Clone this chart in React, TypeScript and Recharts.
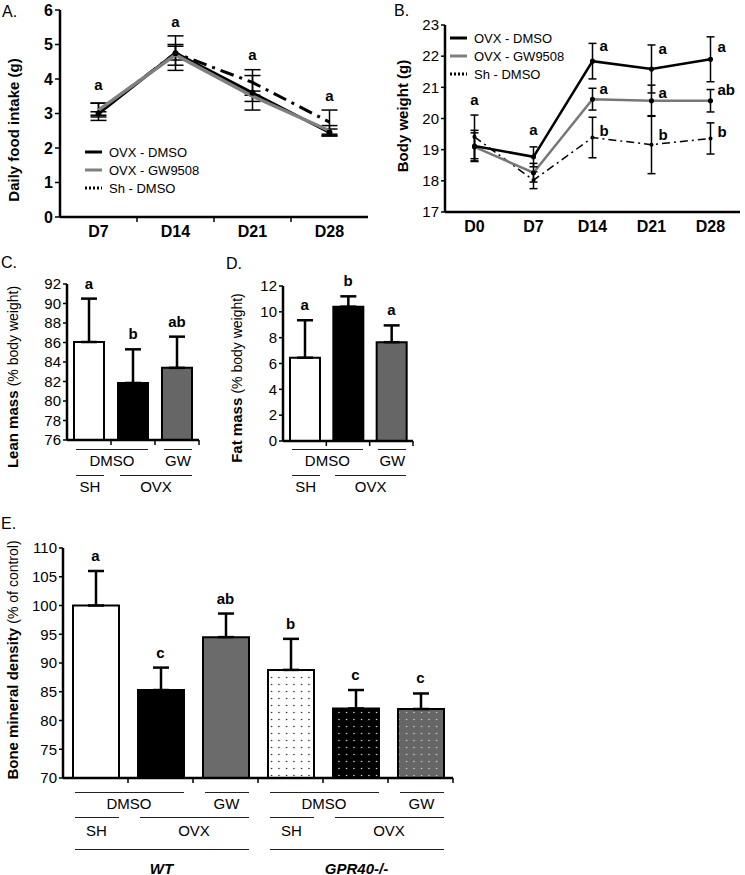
import {
  Bar,
  Cell,
  ComposedChart,
  ErrorBar,
  LabelList,
  Legend,
  Line,
  XAxis,
  YAxis,
} from 'recharts'

const FONT = '"Liberation Sans", Arial, Helvetica, sans-serif'

// A. daily food intake (g)
const foodDays = ['D7', 'D14', 'D21', 'D28']
const foodOvxDmso = [3.0, 4.75, 3.6, 2.45]
const foodOvxDmsoErr = [0.05, 0.2, 0.5, 0.1]
const foodOvxGw = [3.1, 4.7, 3.5, 2.5]
const foodOvxGwErr = [0.2, 0.3, 0.15, 0.15]
const foodShDmso = [3.05, 4.75, 3.9, 2.75]
const foodShDmsoErr = [0.25, 0.5, 0.37, 0.35]
const foodLetters = ['a', 'a', 'a', 'a']
const foodLetterY = [3.83, 5.66, 4.7, 3.51]

// B. body weight (g)
const bwDays = ['D0', 'D7', 'D14', 'D21', 'D28']
const bwOvxDmso = [19.12, 18.77, 21.84, 21.59, 21.9]
const bwOvxDmsoErr = [0.5, 0.32, 0.57, 0.77, 0.72]
const bwOvxGw = [19.09, 18.26, 20.62, 20.57, 20.57]
const bwOvxGwErr = [0.45, 0.3, 0.35, 0.5, 0.36]
const bwShDmso = [19.41, 18.02, 19.39, 19.16, 19.36]
const bwShDmsoErr = [0.7, 0.27, 0.65, 0.93, 0.5]
const bwLettersTop = ['a', 'a', 'a', 'a', 'a']
const bwLettersTopY = [20.6, 19.63, 22.33, 22.23, 22.29]
const bwLettersMid = [null, null, 'a', 'a', 'ab']
const bwLettersMidY = [null, null, 20.95, 20.83, 20.91]
const bwLettersLow = [null, null, 'b', 'b', 'b']
const bwLettersLowY = [null, null, 19.6, 19.47, 19.57]

// C. lean mass, D. fat mass (% body weight)
const bodyGroups = ['SH DMSO', 'OVX DMSO', 'OVX GW']
const leanMass = [86.05, 81.85, 83.4]
const leanMassErr = [4.45, 3.45, 3.2]
const leanLetters = ['a', 'b', 'ab']
const fatMass = [6.45, 10.4, 7.65]
const fatMassErr = [2.9, 0.8, 1.3]
const fatLetters = ['a', 'b', 'a']
const bodyFills = ['#ffffff', '#000000', '#666666']

// E. bone mineral density (% of control)
const bmdGroups = ['WT SH DMSO', 'WT OVX DMSO', 'WT OVX GW', 'KO SH DMSO', 'KO OVX DMSO', 'KO OVX GW']
const bmd = [100, 85.3, 94.5, 88.8, 82.1, 82.0]
const bmdErr = [6.0, 3.9, 4.1, 5.4, 3.2, 2.7]
const bmdLetters = ['a', 'c', 'ab', 'b', 'c', 'c']
const bmdFills = ['#ffffff', '#000000', '#6b6b6b', 'url(#dotsWhite)', 'url(#dotsBlack)', 'url(#dotsGray)']

// group labels under the bars: [label, first bar, last bar]
type Span = [string, number, number]
const cdTreatRow: Span[] = [['DMSO', 0, 1], ['GW', 2, 2]]
const cdSurgeryRow: Span[] = [['SH', 0, 0], ['OVX', 1, 2]]
const eTreatRow: Span[] = [['DMSO', 0, 1], ['GW', 2, 2], ['DMSO', 3, 4], ['GW', 5, 5]]
const eSurgeryRow: Span[] = [['SH', 0, 0], ['OVX', 1, 2], ['SH', 3, 3], ['OVX', 4, 5]]
const eGenotypeRow: Span[] = [['WT', 0, 2], ['GPR40-/-', 3, 5]]

const lineLegend = [
  { name: 'OVX - DMSO', color: '#000000', dash: undefined },
  { name: 'OVX - GW9508', color: '#808080', dash: undefined },
  { name: 'Sh - DMSO', color: '#000000', dash: '2 2' },
]

const foodData = foodDays.map((d, i) => ({
  day: d,
  ovx: foodOvxDmso[i],
  ovxE: foodOvxDmsoErr[i],
  gw: foodOvxGw[i],
  gwE: foodOvxGwErr[i],
  sh: foodShDmso[i],
  shE: foodShDmsoErr[i],
  let: foodLetters[i],
  letY: foodLetterY[i],
}))

const bwData = bwDays.map((d, i) => ({
  day: d,
  ovx: bwOvxDmso[i],
  ovxE: bwOvxDmsoErr[i],
  gw: bwOvxGw[i],
  gwE: bwOvxGwErr[i],
  sh: bwShDmso[i],
  shE: bwShDmsoErr[i],
  // first two days have a single letter centred over the point
  letC: i < 2 ? bwLettersTop[i] : null,
  letCY: i < 2 ? bwLettersTopY[i] : null,
  letT: i >= 2 ? bwLettersTop[i] : null,
  letTY: i >= 2 ? bwLettersTopY[i] : null,
  letM: bwLettersMid[i],
  letMY: bwLettersMidY[i],
  letL: bwLettersLow[i],
  letLY: bwLettersLowY[i],
}))

function barRows(groups: string[], vals: number[], errs: number[], lets: string[]) {
  return groups.map((g, i) => ({
    g,
    v: vals[i],
    e: [0, errs[i]],
    top: vals[i] + errs[i],
    let: lets[i],
  }))
}
const leanData = barRows(bodyGroups, leanMass, leanMassErr, leanLetters)
const fatData = barRows(bodyGroups, fatMass, fatMassErr, fatLetters)
const bmdData = barRows(bmdGroups, bmd, bmdErr, bmdLetters)

type Box = { x: number; y: number; w: number; h: number }
const A_BOX: Box = { x: 60, y: 10, w: 308, h: 207 }
const B_BOX: Box = { x: 445, y: 25, w: 295, h: 187 }
const C_BOX: Box = { x: 67, y: 284, w: 132, h: 156 }
const D_BOX: Box = { x: 283, y: 286, w: 130, h: 155 }
const E_BOX: Box = { x: 63, y: 548, w: 390, h: 230 }

const YW = 50
const PAD_T = 14
const XH = 40

function chartFrame(b: Box, padR: number) {
  return {
    style: { position: 'absolute' as const, left: b.x - YW, top: b.y - PAD_T },
    width: b.w + YW + padR,
    height: b.h + PAD_T + XH,
    margin: { top: PAD_T, right: padR, bottom: 0, left: 0 },
  }
}

const axisLine = { stroke: '#000', strokeWidth: 2.5 }
const tickLine = { stroke: '#000', strokeWidth: 1.5 }

function bandTick(
  band: number,
  o: { label: boolean; bold?: boolean; size?: number; dy?: number; marks: boolean; lastMark?: boolean; count: number },
) {
  return (props: any) => {
    const { x, y, payload, index } = props
    const isLast = index === o.count - 1
    return (
      <g>
        {o.marks && (!isLast || o.lastMark) && (
          <line x1={x + band / 2} x2={x + band / 2} y1={y} y2={y + 5} stroke="#000" strokeWidth={1.5} />
        )}
        {o.label && (
          <text
            x={x}
            y={y + (o.dy ?? 16)}
            textAnchor="middle"
            fontFamily={FONT}
            fontSize={o.size ?? 15}
            fontWeight={o.bold ? 700 : 400}
            fill="#000"
          >
            {payload.value}
          </text>
        )}
      </g>
    )
  }
}

function letterLabel(dy: number, dx = 0, anchor: 'middle' | 'start' = 'middle') {
  return (p: any) => {
    const v = p.value
    if (v == null || v === '') return null
    const vb = p.viewBox ?? {}
    const x = vb.x ?? p.x
    const y = vb.y ?? p.y
    if (!Number.isFinite(x) || !Number.isFinite(y)) return null
    return (
      <text x={x + dx} y={y + dy} textAnchor={anchor} fontFamily={FONT} fontSize={15} fontWeight={700} fill="#000">
        {v}
      </text>
    )
  }
}

function LineLegend({ size }: { size: number }) {
  return (
    <div style={{ fontFamily: FONT, fontSize: size, color: '#000' }}>
      {lineLegend.map((it) => (
        <div key={it.name} style={{ display: 'flex', alignItems: 'center', height: 18 }}>
          <svg width={18} height={6}>
            <line x1={0} x2={17} y1={3} y2={3} stroke={it.color} strokeWidth={3} strokeDasharray={it.dash} />
          </svg>
          <span style={{ marginLeft: 6 }}>{it.name}</span>
        </div>
      ))}
    </div>
  )
}

function VLabel({ cx, cy, bold, rest }: { cx: number; cy: number; bold: string; rest?: string }) {
  return (
    <div
      style={{
        position: 'absolute',
        left: cx,
        top: cy,
        transform: 'translate(-50%, -50%) rotate(-90deg)',
        whiteSpace: 'nowrap',
        fontFamily: FONT,
        fontSize: 15,
        lineHeight: 1,
        color: '#000',
      }}
    >
      <span style={{ fontWeight: 700 }}>{bold}</span>
      {rest && <span style={{ fontSize: 14 }}>{rest}</span>}
    </div>
  )
}

function PanelTag({ x, y, text }: { x: number; y: number; text: string }) {
  return (
    <div style={{ position: 'absolute', left: x, top: y, fontFamily: FONT, fontSize: 16, lineHeight: 1 }}>{text}</div>
  )
}

function GroupRow({
  box,
  count,
  barW,
  spans,
  lineY,
  textY,
  bold,
}: {
  box: Box
  count: number
  barW: number
  spans: Span[]
  lineY?: number
  textY: number
  bold?: boolean
}) {
  const band = box.w / count
  const left = (i: number) => box.x + band * i + (band - barW) / 2
  return (
    <>
      {spans.map(([label, a, b], k) => {
        const x1 = left(a) + 2
        const x2 = left(b) + barW
        return (
          <div key={k}>
            {lineY != null && (
              <div
                style={{ position: 'absolute', left: x1, top: lineY, width: x2 - x1, borderTop: '1.5px solid #222' }}
              />
            )}
            <div
              style={{
                position: 'absolute',
                left: (x1 + x2) / 2,
                top: textY,
                transform: 'translate(-50%, -50%)',
                fontFamily: FONT,
                fontSize: 15,
                fontWeight: bold ? 700 : 400,
                fontStyle: bold ? 'italic' : 'normal',
                whiteSpace: 'nowrap',
                lineHeight: 1,
              }}
            >
              {label}
            </div>
          </div>
        )
      })}
    </>
  )
}

function FoodChart() {
  const f = chartFrame(A_BOX, 12)
  return (
    <div style={f.style}>
      <ComposedChart width={f.width} height={f.height} margin={f.margin} data={foodData}>
        <XAxis
          dataKey="day"
          scale="band"
          height={XH}
          interval={0}
          tickSize={0}
          tickMargin={0}
          tickLine={false}
          axisLine={axisLine}
          tick={bandTick(A_BOX.w / foodDays.length, { label: true, bold: true, size: 16, dy: 20, marks: true, count: foodDays.length })}
        />
        <YAxis
          width={YW}
          domain={[0, 6]}
          ticks={[0, 1, 2, 3, 4, 5, 6]}
          interval={0}
          tickSize={5}
          tickLine={tickLine}
          axisLine={axisLine}
          tick={{ fill: '#000', fontSize: 16, fontWeight: 700, fontFamily: FONT }}
        />
        <Legend
          layout="vertical"
          align="center"
          verticalAlign="middle"
          content={() => <LineLegend size={13} />}
          wrapperStyle={{ left: 75, top: 147, width: 'auto', height: 'auto' }}
        />
        <Line dataKey="sh" stroke="#000" strokeWidth={3} strokeDasharray="14 6 3 6" dot={false} isAnimationActive={false}>
          <ErrorBar dataKey="shE" width={8} stroke="#000" strokeWidth={1.5} direction="y" />
        </Line>
        <Line dataKey="ovx" stroke="#000" strokeWidth={3} dot={{ r: 1.5, fill: '#000', stroke: '#000' }} isAnimationActive={false}>
          <ErrorBar dataKey="ovxE" width={8} stroke="#000" strokeWidth={1.5} direction="y" />
        </Line>
        <Line dataKey="gw" stroke="#808080" strokeWidth={3.5} dot={false} isAnimationActive={false}>
          <ErrorBar dataKey="gwE" width={8} stroke="#000" strokeWidth={1.5} direction="y" />
        </Line>
        <Line dataKey="letY" stroke="none" dot={false} activeDot={false} legendType="none" isAnimationActive={false}>
          <LabelList dataKey="let" content={letterLabel(5)} />
        </Line>
      </ComposedChart>
    </div>
  )
}

function WeightChart() {
  const f = chartFrame(B_BOX, 4)
  return (
    <div style={f.style}>
      <ComposedChart width={f.width} height={f.height} margin={f.margin} data={bwData}>
        <XAxis
          dataKey="day"
          scale="band"
          height={XH}
          interval={0}
          tickSize={0}
          tickMargin={0}
          tickLine={false}
          axisLine={axisLine}
          tick={bandTick(B_BOX.w / bwDays.length, { label: true, bold: true, size: 16, dy: 20, marks: false, count: bwDays.length })}
        />
        <YAxis
          width={YW}
          domain={[17, 23]}
          ticks={[17, 18, 19, 20, 21, 22, 23]}
          interval={0}
          tickSize={4}
          tickLine={tickLine}
          axisLine={axisLine}
          tick={{ fill: '#000', fontSize: 15, fontFamily: FONT }}
        />
        <Legend
          layout="vertical"
          align="center"
          verticalAlign="middle"
          content={() => <LineLegend size={13} />}
          wrapperStyle={{ left: 55, top: 18, width: 'auto', height: 'auto' }}
        />
        <Line dataKey="sh" stroke="#000" strokeWidth={1.5} strokeDasharray="8 4 2 4" dot={{ r: 1.3, fill: '#000', stroke: '#000' }} isAnimationActive={false}>
          <ErrorBar dataKey="shE" width={4} stroke="#000" strokeWidth={1.5} direction="y" />
        </Line>
        <Line dataKey="gw" stroke="#777" strokeWidth={2.5} dot={{ r: 1.3, fill: '#000', stroke: '#000' }} isAnimationActive={false}>
          <ErrorBar dataKey="gwE" width={4} stroke="#000" strokeWidth={1.5} direction="y" />
        </Line>
        <Line dataKey="ovx" stroke="#000" strokeWidth={2.5} dot={{ r: 1.3, fill: '#000', stroke: '#000' }} isAnimationActive={false}>
          <ErrorBar dataKey="ovxE" width={4} stroke="#000" strokeWidth={1.5} direction="y" />
        </Line>
        <Line dataKey="letCY" stroke="none" dot={false} activeDot={false} legendType="none" isAnimationActive={false}>
          <LabelList dataKey="letC" content={letterLabel(5)} />
        </Line>
        <Line dataKey="letTY" stroke="none" dot={false} activeDot={false} legendType="none" isAnimationActive={false}>
          <LabelList dataKey="letT" content={letterLabel(5, 7, 'start')} />
        </Line>
        <Line dataKey="letMY" stroke="none" dot={false} activeDot={false} legendType="none" isAnimationActive={false}>
          <LabelList dataKey="letM" content={letterLabel(5, 7, 'start')} />
        </Line>
        <Line dataKey="letLY" stroke="none" dot={false} activeDot={false} legendType="none" isAnimationActive={false}>
          <LabelList dataKey="letL" content={letterLabel(5, 7, 'start')} />
        </Line>
      </ComposedChart>
    </div>
  )
}

function BarPanel({
  box,
  data,
  fills,
  domain,
  ticks,
  barW,
  withPatterns,
}: {
  box: Box
  data: ReturnType<typeof barRows>
  fills: string[]
  domain: [number, number]
  ticks: number[]
  barW: number
  withPatterns?: boolean
}) {
  const f = chartFrame(box, 10)
  return (
    <div style={f.style}>
      <ComposedChart width={f.width} height={f.height} margin={f.margin} data={data}>
        {withPatterns && (
          <defs>
            <pattern id="dotsWhite" width={7.5} height={7} patternUnits="userSpaceOnUse">
              <rect width={7.5} height={7} fill="#fff" />
              <circle cx={3.5} cy={3.5} r={0.7} fill="#000" />
            </pattern>
            <pattern id="dotsBlack" width={7.5} height={7} patternUnits="userSpaceOnUse">
              <rect width={7.5} height={7} fill="#000" />
              <circle cx={3.5} cy={3.5} r={0.7} fill="#fff" />
            </pattern>
            <pattern id="dotsGray" width={7.5} height={7} patternUnits="userSpaceOnUse">
              <rect width={7.5} height={7} fill="#666" />
              <circle cx={3.5} cy={3.5} r={0.7} fill="#ddd" />
            </pattern>
          </defs>
        )}
        <XAxis
          dataKey="g"
          height={XH}
          interval={0}
          tickSize={0}
          tickMargin={0}
          tickLine={false}
          axisLine={axisLine}
          tick={bandTick(box.w / data.length, { label: false, marks: true, lastMark: true, count: data.length })}
        />
        <YAxis
          width={YW}
          domain={domain}
          ticks={ticks}
          interval={0}
          tickSize={4}
          tickLine={tickLine}
          axisLine={axisLine}
          tick={{ fill: '#000', fontSize: 15, fontFamily: FONT }}
        />
        <Bar dataKey="v" barSize={barW} stroke="#000" strokeWidth={2} isAnimationActive={false}>
          {data.map((_, i) => (
            <Cell key={i} fill={fills[i]} />
          ))}
          <ErrorBar dataKey="e" width={8} stroke="#000" strokeWidth={2.5} direction="y" />
        </Bar>
        <Line dataKey="top" stroke="none" dot={false} activeDot={false} legendType="none" isAnimationActive={false}>
          <LabelList dataKey="let" content={letterLabel(-10)} />
        </Line>
      </ComposedChart>
    </div>
  )
}

export default function App() {
  const cBottom = C_BOX.y + C_BOX.h
  const dBottom = D_BOX.y + D_BOX.h
  const eBottom = E_BOX.y + E_BOX.h
  return (
    <div
      style={{
        position: 'absolute',
        left: 0,
        top: 0,
        width: 745,
        height: 875,
        overflow: 'hidden',
        background: '#fff',
        fontFamily: FONT,
      }}
    >
      <PanelTag x={2} y={4} text="A." />
      <PanelTag x={394} y={3} text="B." />
      <PanelTag x={1} y={255} text="C." />
      <PanelTag x={226} y={256} text="D." />
      <PanelTag x={1} y={516} text="E." />

      <VLabel cx={13} cy={130} bold="Daily food intake (g)" />
      <VLabel cx={402} cy={116} bold="Body weight (g)" />
      <VLabel cx={12} cy={377} bold="Lean mass " rest="(% body weight)" />
      <VLabel cx={236} cy={378} bold="Fat mass " rest="(% body weight)" />
      <VLabel cx={12} cy={660} bold="Bone mineral density " rest="(% of control)" />

      <FoodChart />
      <WeightChart />
      <BarPanel box={C_BOX} data={leanData} fills={bodyFills} domain={[76, 92]} ticks={[76, 78, 80, 82, 84, 86, 88, 90, 92]} barW={30} />
      <BarPanel box={D_BOX} data={fatData} fills={bodyFills} domain={[0, 12]} ticks={[0, 2, 4, 6, 8, 10, 12]} barW={30} />
      <BarPanel
        box={E_BOX}
        data={bmdData}
        fills={bmdFills}
        domain={[70, 110]}
        ticks={[70, 75, 80, 85, 90, 95, 100, 105, 110]}
        barW={46}
        withPatterns
      />

      <GroupRow box={C_BOX} count={3} barW={30} spans={cdTreatRow} lineY={cBottom + 9} textY={cBottom + 20} />
      <GroupRow box={C_BOX} count={3} barW={30} spans={cdSurgeryRow} lineY={cBottom + 35} textY={cBottom + 46} />
      <GroupRow box={D_BOX} count={3} barW={30} spans={cdTreatRow} lineY={dBottom + 8} textY={dBottom + 19} />
      <GroupRow box={D_BOX} count={3} barW={30} spans={cdSurgeryRow} lineY={dBottom + 34} textY={dBottom + 45} />

      <GroupRow box={E_BOX} count={6} barW={46} spans={eTreatRow} lineY={eBottom + 14} textY={eBottom + 25} />
      <GroupRow box={E_BOX} count={6} barW={46} spans={eSurgeryRow} lineY={eBottom + 39} textY={eBottom + 52} />
      <GroupRow box={E_BOX} count={6} barW={46} spans={eGenotypeRow} lineY={eBottom + 71} textY={eBottom + 90} bold />
    </div>
  )
}
